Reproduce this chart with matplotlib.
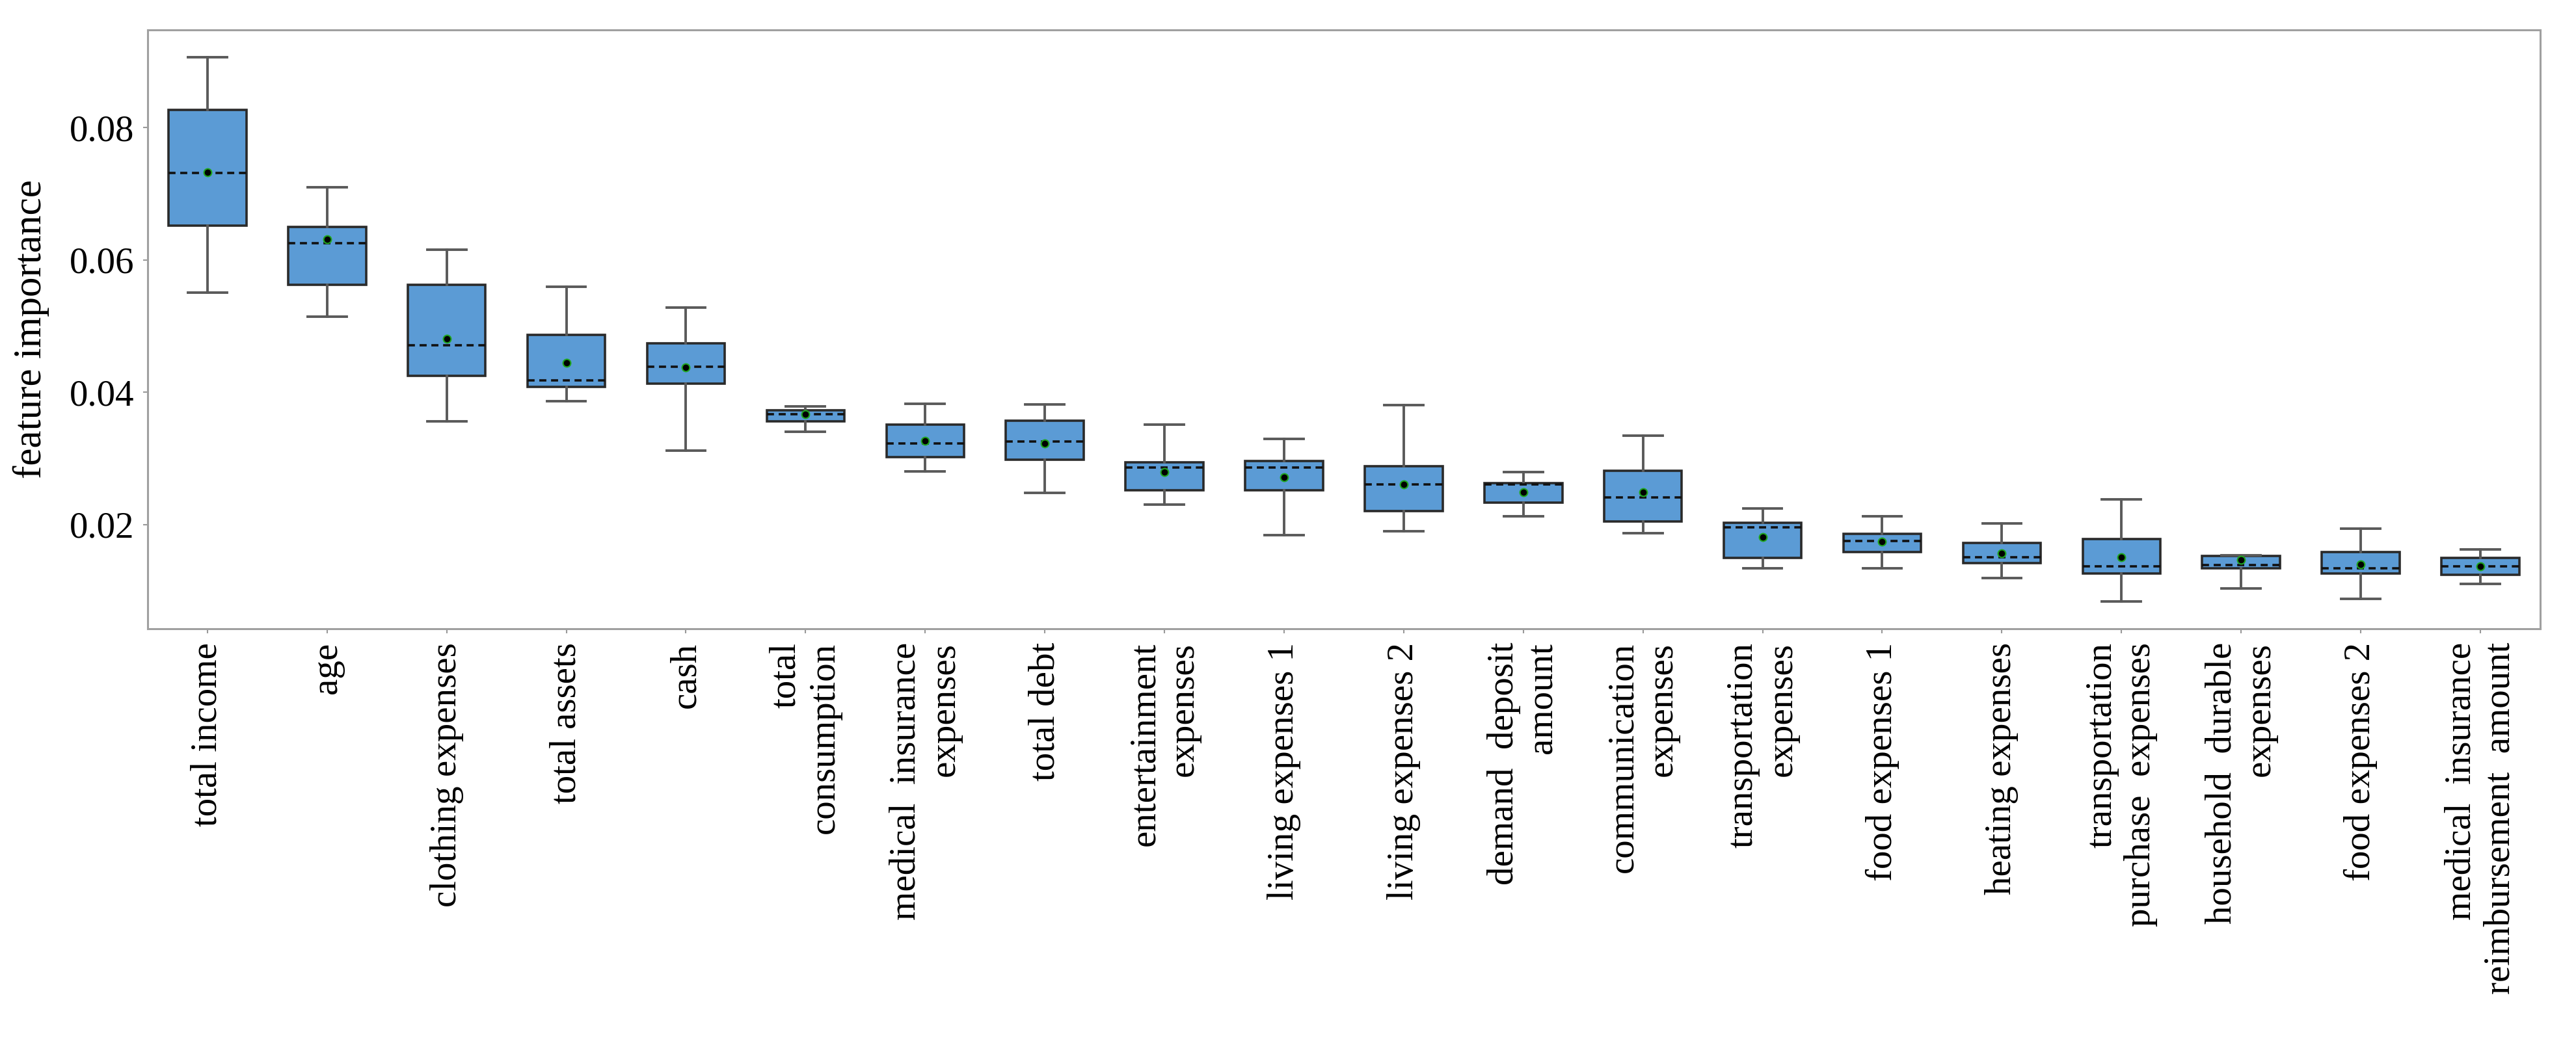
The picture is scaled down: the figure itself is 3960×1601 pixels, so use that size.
import matplotlib
matplotlib.use("Agg")
import matplotlib.pyplot as plt

categories = [
    "total income", "age", "clothing expenses", "total assets", "cash",
    "total\nconsumption", "medical  insurance\nexpenses", "total debt",
    "entertainment\nexpenses", "living expenses 1", "living expenses 2",
    "demand  deposit\namount", "communication\nexpenses",
    "transportation\nexpenses", "food expenses 1", "heating expenses",
    "transportation\npurchase  expenses", "household  durable\nexpenses",
    "food expenses 2", "medical  insurance\nreimbursement  amount",
]
whis_hi = [0.0907, 0.0710, 0.0616, 0.0560, 0.0528, 0.0379, 0.0383, 0.0382,
           0.0351, 0.0330, 0.0381, 0.0279, 0.0334, 0.0224, 0.0213, 0.0202,
           0.0238, 0.0154, 0.0194, 0.0162]
q3 = [0.0827, 0.0650, 0.0563, 0.0487, 0.0474, 0.0373, 0.0351, 0.0357,
      0.0294, 0.0296, 0.0288, 0.0263, 0.0281, 0.0203, 0.0186, 0.0172,
      0.0178, 0.0153, 0.0159, 0.0150]
medians = [0.0732, 0.0625, 0.0471, 0.0418, 0.0439, 0.0367, 0.0323, 0.0326,
           0.0286, 0.0286, 0.0261, 0.0261, 0.0241, 0.0196, 0.0175, 0.0151,
           0.0137, 0.0139, 0.0134, 0.0137]
means = [0.0733, 0.0631, 0.0481, 0.0445, 0.0438, 0.0367, 0.0327, 0.0323,
         0.0279, 0.0272, 0.0261, 0.0249, 0.0249, 0.0181, 0.0174, 0.0157,
         0.0151, 0.0147, 0.0140, 0.0137]
q1 = [0.0652, 0.0563, 0.0425, 0.0408, 0.0413, 0.0356, 0.0302, 0.0298,
      0.0252, 0.0252, 0.0220, 0.0233, 0.0205, 0.0150, 0.0159, 0.0142,
      0.0126, 0.0134, 0.0126, 0.0124]
whis_lo = [0.0551, 0.0514, 0.0356, 0.0387, 0.0312, 0.0340, 0.0280, 0.0248,
           0.0230, 0.0184, 0.0190, 0.0213, 0.0187, 0.0134, 0.0134, 0.0119,
           0.0084, 0.0103, 0.0088, 0.0110]
yticks = [0.02, 0.04, 0.06, 0.08]
ytick_labels = ["0.02", "0.04", "0.06", "0.08"]

plt.rcParams["font.family"] = ["Liberation Serif", "DejaVu Serif"]

fig = plt.figure(figsize=(39.6, 16.01), dpi=100)
ax = fig.add_axes([0.0573, 0.396, 0.9288, 0.5753])

stats = []
for i, name in enumerate(categories):
    stats.append(dict(label=name, whislo=whis_lo[i], q1=q1[i], med=medians[i],
                      q3=q3[i], whishi=whis_hi[i], mean=means[i], fliers=[]))

ax.bxp(stats, positions=list(range(len(categories))), widths=0.65,
       showmeans=True, patch_artist=True,
       boxprops=dict(facecolor="#5b9bd5", edgecolor="#2a2a2a", linewidth=2.6),
       whiskerprops=dict(color="#5a5a5a", linewidth=2.8),
       capprops=dict(color="#5a5a5a", linewidth=2.8),
       medianprops=dict(color="#111111", linewidth=2.6, linestyle=(0, (3, 2))),
       meanprops=dict(marker="o", markerfacecolor="black",
                      markeredgecolor="#1fa51f", markersize=8.5,
                      markeredgewidth=1.5))

ax.set_xlim(-0.5, len(categories) - 0.5)
ax.set_ylim(0.00425, 0.0948)
ax.set_yticks(yticks)
ax.set_yticklabels(ytick_labels, fontsize=41)
ax.set_xticks(list(range(len(categories))))
ax.set_xticklabels(categories, rotation=90, fontsize=41, ha="center",
                   va="top", multialignment="right")
ax.tick_params(axis="both", length=5, width=1.5, color="#999999", pad=10)
ax.set_ylabel("feature importance", fontsize=44, labelpad=22)

for s in ax.spines.values():
    s.set_color("#a0a0a0")
    s.set_linewidth(2.2)

fig.savefig("out.png", dpi=100, facecolor="white")
